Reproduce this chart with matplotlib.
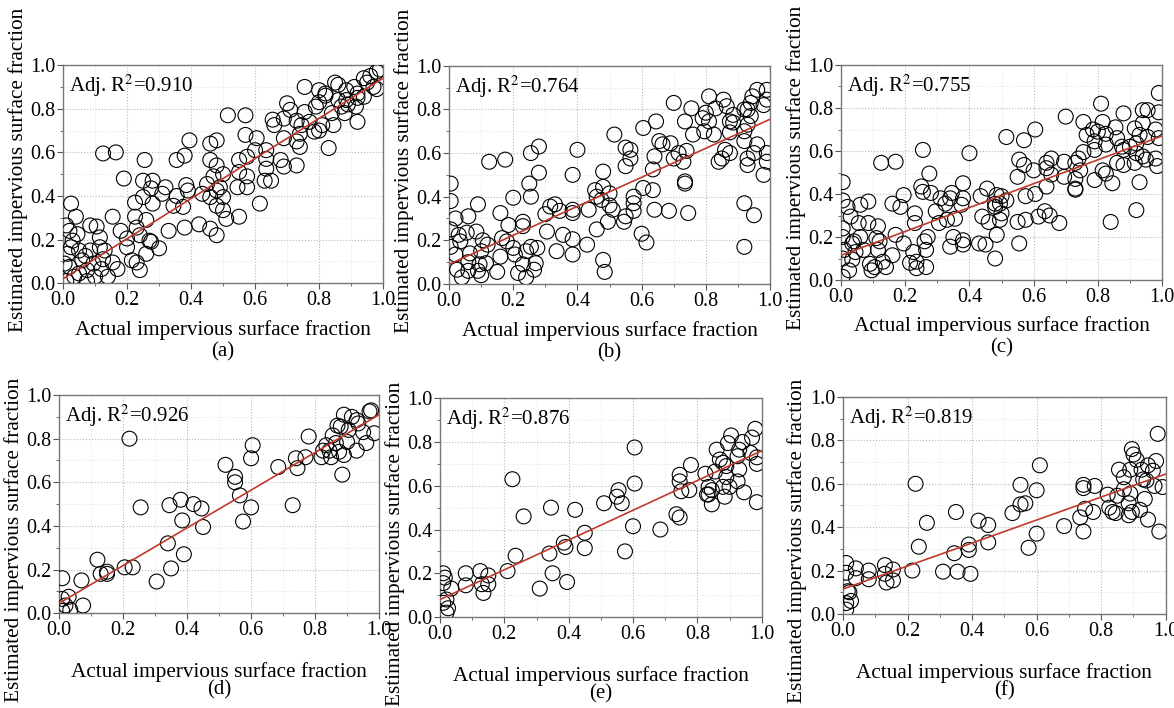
import matplotlib
matplotlib.use("Agg")
import matplotlib.pyplot as plt
import numpy as np

plt.rcParams["font.family"] = ["Liberation Serif", "DejaVu Serif"]
plt.rcParams["mathtext.fontset"] = "stix"

# ---- data (x = actual, y = estimated) ----
xa = [0.98, 0.99, 0.96, 0.94, 0.95, 0.91, 0.97, 0.98, 0.85, 0.86, 0.885, 0.92, 0.94, 0.92, 0.86,
      0.82, 0.80, 0.82, 0.80, 0.79, 0.885, 0.87, 0.89, 0.915, 0.84, 0.88, 0.92, 0.845, 0.755, 0.755,
      0.70, 0.71, 0.69, 0.73, 0.745, 0.77, 0.785, 0.80, 0.81, 0.83, 0.655, 0.66, 0.74, 0.73, 0.74,
      0.69, 0.73, 0.69, 0.68, 0.635, 0.635, 0.635, 0.63, 0.65, 0.60, 0.605, 0.615, 0.57, 0.515, 0.57,
      0.575, 0.55, 0.55, 0.575, 0.575, 0.545, 0.55, 0.51, 0.50, 0.50, 0.49, 0.50, 0.48, 0.48, 0.46,
      0.46, 0.48, 0.48, 0.48, 0.46, 0.46, 0.435, 0.425, 0.45, 0.47, 0.395, 0.38, 0.355, 0.385, 0.39,
      0.375, 0.38, 0.355, 0.345, 0.33, 0.32, 0.31, 0.275, 0.28, 0.25, 0.255, 0.28, 0.25, 0.26, 0.27,
      0.30, 0.225, 0.225, 0.23, 0.24, 0.215, 0.23, 0.24, 0.26, 0.275, 0.19, 0.165, 0.125, 0.155, 0.18,
      0.20, 0.20, 0.17, 0.155, 0.14, 0.125, 0.115, 0.115, 0.105, 0.085, 0.085, 0.095, 0.10, 0.075, 0.06,
      0.05, 0.045, 0.04, 0.025, 0.02, 0.01, 0.03, 0.015, 0.02, 0.035, 0.01, 0.07, 0.05, 0.075, 0.12,
      0.005, 0.025, 0.13]
ya = [0.97, 0.98, 0.95, 0.94, 0.92, 0.90, 0.90, 0.89, 0.92, 0.91, 0.885, 0.87, 0.855, 0.85, 0.84,
      0.87, 0.885, 0.86, 0.83, 0.81, 0.84, 0.81, 0.82, 0.81, 0.78, 0.78, 0.74, 0.725, 0.90, 0.785,
      0.825, 0.795, 0.755, 0.745, 0.725, 0.74, 0.695, 0.70, 0.725, 0.62, 0.75, 0.725, 0.685, 0.65, 0.625,
      0.665, 0.54, 0.535, 0.565, 0.61, 0.57, 0.525, 0.47, 0.47, 0.61, 0.665, 0.365, 0.77, 0.77, 0.68,
      0.58, 0.565, 0.51, 0.49, 0.44, 0.44, 0.305, 0.295, 0.335, 0.395, 0.44, 0.50, 0.54, 0.655, 0.64,
      0.565, 0.425, 0.355, 0.22, 0.25, 0.395, 0.41, 0.27, 0.455, 0.49, 0.655, 0.585, 0.565, 0.45, 0.425,
      0.35, 0.255, 0.40, 0.355, 0.24, 0.44, 0.41, 0.435, 0.47, 0.47, 0.565, 0.365, 0.395, 0.29, 0.195,
      0.16, 0.37, 0.305, 0.255, 0.22, 0.105, 0.095, 0.06, 0.135, 0.19, 0.48, 0.60, 0.595, 0.305, 0.24,
      0.205, 0.165, 0.065, 0.095, 0.03, 0.11, 0.165, 0.21, 0.26, 0.265, 0.15, 0.09, 0.03, 0.06, 0.105,
      0.15, 0.225, 0.305, 0.365, 0.24, 0.265, 0.195, 0.135, 0.075, 0.03, 0.01, 0.125, 0.045, 0.01, 0.065,
      0.09, 0.165, 0.15]

xb = [0.99, 0.99, 0.96, 0.945, 0.94, 0.93, 0.92, 0.98, 0.94, 0.93, 0.92, 0.92, 0.96, 0.95, 0.99,
      0.99, 0.93, 0.93, 0.98, 0.92, 0.95, 0.92, 0.81, 0.855, 0.83, 0.865, 0.885, 0.875, 0.885, 0.80,
      0.79, 0.81, 0.825, 0.795, 0.875, 0.84, 0.85, 0.875, 0.86, 0.755, 0.76, 0.735, 0.70, 0.645, 0.655,
      0.665, 0.69, 0.715, 0.74, 0.70, 0.64, 0.635, 0.635, 0.64, 0.685, 0.735, 0.735, 0.745, 0.73, 0.605,
      0.515, 0.55, 0.565, 0.565, 0.55, 0.605, 0.575, 0.575, 0.575, 0.55, 0.545, 0.60, 0.615, 0.48, 0.48,
      0.455, 0.475, 0.46, 0.50, 0.50, 0.51, 0.495, 0.46, 0.435, 0.48, 0.485, 0.43, 0.40, 0.385, 0.385,
      0.385, 0.385, 0.385, 0.355, 0.345, 0.33, 0.315, 0.30, 0.305, 0.335, 0.28, 0.28, 0.255, 0.25, 0.255,
      0.275, 0.27, 0.265, 0.255, 0.23, 0.23, 0.24, 0.23, 0.24, 0.215, 0.125, 0.175, 0.20, 0.185, 0.16,
      0.165, 0.18, 0.20, 0.205, 0.16, 0.15, 0.12, 0.115, 0.10, 0.09, 0.085, 0.105, 0.10, 0.095, 0.09,
      0.06, 0.055, 0.065, 0.06, 0.06, 0.03, 0.035, 0.02, 0.005, 0.005, 0.005, 0.02, 0.025, 0.04, 0.005]
yb = [0.89, 0.845, 0.89, 0.86, 0.83, 0.80, 0.80, 0.82, 0.77, 0.73, 0.70, 0.655, 0.64, 0.60, 0.60,
      0.56, 0.575, 0.545, 0.50, 0.37, 0.315, 0.17, 0.86, 0.845, 0.805, 0.815, 0.775, 0.745, 0.74, 0.785,
      0.76, 0.745, 0.685, 0.70, 0.695, 0.56, 0.575, 0.60, 0.615, 0.805, 0.685, 0.745, 0.83, 0.745, 0.655,
      0.64, 0.645, 0.60, 0.61, 0.575, 0.585, 0.525, 0.43, 0.34, 0.335, 0.47, 0.46, 0.325, 0.56, 0.715,
      0.685, 0.625, 0.615, 0.575, 0.54, 0.44, 0.40, 0.37, 0.335, 0.31, 0.285, 0.23, 0.19, 0.515, 0.445,
      0.43, 0.385, 0.40, 0.415, 0.36, 0.34, 0.285, 0.25, 0.34, 0.11, 0.055, 0.18, 0.615, 0.50, 0.34,
      0.325, 0.205, 0.135, 0.225, 0.335, 0.365, 0.355, 0.32, 0.24, 0.15, 0.63, 0.51, 0.60, 0.46, 0.40,
      0.165, 0.095, 0.065, 0.17, 0.285, 0.265, 0.15, 0.09, 0.03, 0.05, 0.56, 0.57, 0.395, 0.27, 0.325,
      0.21, 0.195, 0.165, 0.135, 0.125, 0.055, 0.18, 0.095, 0.04, 0.365, 0.24, 0.20, 0.15, 0.09, 0.06,
      0.31, 0.235, 0.14, 0.10, 0.06, 0.225, 0.195, 0.30, 0.46, 0.38, 0.25, 0.135, 0.065, 0.03, 0.17]

xc = [0.99, 0.99, 0.955, 0.94, 0.94, 0.915, 0.98, 0.99, 0.955, 0.93, 0.92, 0.90, 0.985, 0.98, 0.94,
      0.95, 0.915, 0.92, 0.93, 0.92, 0.88, 0.855, 0.86, 0.875, 0.88, 0.88, 0.86, 0.81, 0.815, 0.785,
      0.80, 0.825, 0.79, 0.79, 0.825, 0.815, 0.825, 0.845, 0.84, 0.79, 0.765, 0.755, 0.755, 0.745, 0.74,
      0.73, 0.73, 0.73, 0.73, 0.70, 0.695, 0.695, 0.68, 0.655, 0.64, 0.64, 0.64, 0.655, 0.635, 0.65,
      0.615, 0.605, 0.60, 0.605, 0.515, 0.57, 0.57, 0.555, 0.55, 0.575, 0.575, 0.55, 0.555, 0.455, 0.485,
      0.50, 0.495, 0.48, 0.48, 0.50, 0.495, 0.46, 0.44, 0.435, 0.43, 0.45, 0.48, 0.485, 0.515, 0.40,
      0.38, 0.38, 0.375, 0.38, 0.38, 0.345, 0.34, 0.325, 0.33, 0.355, 0.35, 0.34, 0.295, 0.31, 0.305,
      0.28, 0.275, 0.255, 0.25, 0.255, 0.27, 0.265, 0.265, 0.26, 0.23, 0.23, 0.225, 0.235, 0.215, 0.235,
      0.195, 0.185, 0.195, 0.17, 0.16, 0.16, 0.17, 0.125, 0.14, 0.13, 0.115, 0.12, 0.115, 0.11, 0.105,
      0.095, 0.09, 0.085, 0.085, 0.07, 0.06, 0.055, 0.06, 0.04, 0.045, 0.035, 0.025, 0.03, 0.02, 0.005,
      0.005, 0.005, 0.005, 0.01, 0.005, 0.005, 0.035]
yc = [0.87, 0.78, 0.79, 0.79, 0.73, 0.705, 0.70, 0.66, 0.665, 0.675, 0.635, 0.62, 0.53, 0.565, 0.575,
      0.56, 0.545, 0.59, 0.455, 0.325, 0.775, 0.71, 0.66, 0.62, 0.605, 0.535, 0.545, 0.82, 0.735, 0.70,
      0.69, 0.68, 0.645, 0.605, 0.63, 0.51, 0.495, 0.45, 0.27, 0.465, 0.675, 0.735, 0.595, 0.51, 0.565,
      0.545, 0.47, 0.425, 0.42, 0.76, 0.55, 0.48, 0.265, 0.565, 0.545, 0.52, 0.435, 0.49, 0.32, 0.30,
      0.295, 0.70, 0.51, 0.40, 0.665, 0.65, 0.535, 0.56, 0.48, 0.39, 0.28, 0.27, 0.17, 0.425, 0.395,
      0.39, 0.355, 0.355, 0.34, 0.31, 0.28, 0.27, 0.295, 0.39, 0.17, 0.165, 0.10, 0.21, 0.37, 0.59,
      0.45, 0.38, 0.35, 0.185, 0.165, 0.405, 0.38, 0.355, 0.28, 0.285, 0.20, 0.155, 0.32, 0.38, 0.265,
      0.405, 0.495, 0.605, 0.435, 0.41, 0.20, 0.14, 0.06, 0.18, 0.31, 0.265, 0.13, 0.085, 0.08, 0.055,
      0.395, 0.34, 0.17, 0.21, 0.355, 0.115, 0.55, 0.545, 0.06, 0.085, 0.14, 0.18, 0.25, 0.195, 0.06,
      0.045, 0.075, 0.265, 0.365, 0.14, 0.20, 0.265, 0.35, 0.18, 0.13, 0.095, 0.045, 0.295, 0.34, 0.37,
      0.455, 0.24, 0.20, 0.14, 0.10, 0.015, 0.17]

xd = [0.975, 0.97, 0.89, 0.915, 0.87, 0.88, 0.93, 0.935, 0.905, 0.95, 0.985, 0.855, 0.90, 0.96, 0.865,
      0.835, 0.825, 0.845, 0.875, 0.93, 0.85, 0.82, 0.89, 0.885, 0.78, 0.77, 0.74, 0.745, 0.685, 0.73,
      0.605, 0.60, 0.60, 0.575, 0.565, 0.55, 0.55, 0.52, 0.445, 0.45, 0.42, 0.38, 0.385, 0.39, 0.345,
      0.34, 0.35, 0.305, 0.255, 0.22, 0.23, 0.205, 0.12, 0.13, 0.15, 0.15, 0.07, 0.075, 0.03, 0.01,
      0.01, 0.02, 0.035, 0.01]
yd = [0.93, 0.925, 0.91, 0.90, 0.86, 0.855, 0.885, 0.87, 0.84, 0.83, 0.825, 0.815, 0.785, 0.78, 0.78,
      0.77, 0.745, 0.745, 0.74, 0.745, 0.715, 0.715, 0.725, 0.635, 0.81, 0.715, 0.71, 0.665, 0.67, 0.495,
      0.77, 0.71, 0.485, 0.42, 0.54, 0.625, 0.60, 0.68, 0.48, 0.395, 0.50, 0.52, 0.425, 0.27, 0.495,
      0.32, 0.205, 0.145, 0.485, 0.80, 0.21, 0.21, 0.245, 0.18, 0.19, 0.18, 0.15, 0.035, 0.075, 0.16,
      0.065, 0.035, 0.015, 0.01]

xe = [0.98, 0.97, 0.905, 0.895, 0.94, 0.93, 0.965, 0.985, 0.985, 0.925, 0.86, 0.87, 0.88, 0.89, 0.93,
      0.925, 0.945, 0.985, 0.855, 0.825, 0.835, 0.845, 0.89, 0.88, 0.885, 0.90, 0.835, 0.845, 0.83, 0.78,
      0.775, 0.745, 0.745, 0.75, 0.735, 0.745, 0.685, 0.605, 0.605, 0.60, 0.575, 0.565, 0.555, 0.55, 0.51,
      0.45, 0.45, 0.42, 0.385, 0.39, 0.395, 0.35, 0.34, 0.345, 0.26, 0.235, 0.225, 0.21, 0.31, 0.125,
      0.13, 0.135, 0.15, 0.15, 0.08, 0.08, 0.035, 0.02, 0.015, 0.01, 0.01, 0.025, 0.02, 0.01]
ye = [0.86, 0.82, 0.83, 0.795, 0.80, 0.765, 0.75, 0.70, 0.73, 0.735, 0.765, 0.72, 0.705, 0.69, 0.675,
      0.62, 0.57, 0.525, 0.665, 0.655, 0.595, 0.58, 0.64, 0.595, 0.55, 0.595, 0.56, 0.515, 0.56, 0.695,
      0.58, 0.65, 0.62, 0.575, 0.47, 0.455, 0.40, 0.775, 0.61, 0.415, 0.30, 0.52, 0.58, 0.55, 0.52,
      0.385, 0.315, 0.49, 0.34, 0.32, 0.16, 0.20, 0.29, 0.50, 0.46, 0.28, 0.63, 0.21, 0.13, 0.21,
      0.15, 0.11, 0.15, 0.19, 0.20, 0.145, 0.13, 0.08, 0.18, 0.20, 0.155, 0.04, 0.02, 0.065]

xf = [0.975, 0.895, 0.90, 0.91, 0.97, 0.945, 0.925, 0.96, 0.89, 0.855, 0.87, 0.93, 0.94, 0.99, 0.965,
      0.87, 0.85, 0.82, 0.89, 0.935, 0.885, 0.825, 0.835, 0.845, 0.895, 0.92, 0.885, 0.945, 0.98, 0.78,
      0.745, 0.745, 0.75, 0.775, 0.735, 0.745, 0.685, 0.61, 0.60, 0.60, 0.565, 0.55, 0.55, 0.525, 0.575,
      0.45, 0.45, 0.42, 0.39, 0.39, 0.395, 0.345, 0.35, 0.355, 0.31, 0.26, 0.235, 0.225, 0.215, 0.155,
      0.155, 0.135, 0.13, 0.13, 0.08, 0.08, 0.04, 0.04, 0.01, 0.01, 0.015, 0.02, 0.025, 0.01, 0.01]
yf = [0.83, 0.76, 0.735, 0.71, 0.705, 0.685, 0.665, 0.66, 0.665, 0.665, 0.63, 0.62, 0.615, 0.585, 0.59,
      0.575, 0.545, 0.55, 0.555, 0.53, 0.51, 0.49, 0.47, 0.465, 0.47, 0.48, 0.455, 0.435, 0.38, 0.59,
      0.58, 0.595, 0.485, 0.47, 0.445, 0.38, 0.405, 0.685, 0.57, 0.37, 0.51, 0.505, 0.595, 0.465, 0.305,
      0.41, 0.33, 0.43, 0.32, 0.295, 0.185, 0.28, 0.47, 0.195, 0.195, 0.42, 0.31, 0.60, 0.20, 0.205,
      0.155, 0.145, 0.225, 0.185, 0.20, 0.16, 0.21, 0.165, 0.235, 0.19, 0.105, 0.10, 0.06, 0.05, 0.02]

panel_x = [xa, xb, xc, xd, xe, xf]
panel_y = [ya, yb, yc, yd, ye, yf]
adj_r2 = ["0.910", "0.764", "0.755", "0.926", "0.876", "0.819"]
fit_intercept = [0.02, 0.09, 0.115, 0.045, 0.08, 0.115]
fit_slope = [0.92, 0.665, 0.555, 0.865, 0.68, 0.53]
captions = ["(a)", "(b)", "(c)", "(d)", "(e)", "(f)"]
ticks = [0.0, 0.2, 0.4, 0.6, 0.8, 1.0]

# axes rectangles in figure fraction (left, bottom, width, height)
rects = [(0.0537, 0.600, 0.2726, 0.308), (0.3825, 0.599, 0.2734, 0.308),
         (0.7164, 0.6045, 0.2734, 0.3037), (0.0503, 0.134, 0.2726, 0.308),
         (0.3748, 0.1285, 0.274, 0.309), (0.718, 0.1328, 0.275, 0.3065)]

fig = plt.figure(figsize=(11.74, 7.08), dpi=100)
for i in range(6):
    ax = fig.add_axes(rects[i])
    ax.set_xlim(0, 1)
    ax.set_ylim(0, 1)
    ax.set_xticks(ticks)
    ax.set_yticks(ticks)
    ax.set_xticklabels([f"{t:.1f}" for t in ticks])
    ax.set_yticklabels([f"{t:.1f}" for t in ticks])
    ax.set_xticks(np.arange(0.1, 1.0, 0.2), minor=True)
    ax.set_yticks(np.arange(0.1, 1.0, 0.2), minor=True)
    ax.grid(which="major", color="#b8b8b8", ls=":", lw=0.8)
    ax.grid(which="minor", color="#e2e2e2", ls=":", lw=0.6)
    ax.tick_params(which="both", direction="out", labelsize=14.5, color="#555555", pad=1.5)
    ax.tick_params(which="major", length=4)
    ax.tick_params(which="minor", length=2.5)
    for sp in ax.spines.values():
        sp.set_color("#777777")
        sp.set_linewidth(1.0)
    ax.set_axisbelow(True)

    ax.scatter(panel_x[i], panel_y[i], s=115, facecolors="none", edgecolors="black",
               linewidths=0.8, zorder=3)
    xs = np.array([0.0, 1.0])
    ax.plot(xs, fit_intercept[i] + fit_slope[i] * xs, color="#c0392b", lw=1.2, zorder=4)

    ax.text(0.02, 0.905, "Adj. R$^2$=" + adj_r2[i], transform=ax.transAxes,
            fontsize=15, va="center", ha="left")

    top = i < 3
    ax.set_xlabel("Actual impervious surface fraction", fontsize=15.3)
    ax.xaxis.set_label_coords(0.5, -0.17 if top else -0.225)
    ax.set_ylabel("Estimated impervious surface fraction", fontsize=15.3)
    ax.yaxis.set_label_coords(-0.11, 0.52 if top else 0.335)
    ax.text(0.5, -0.317 if top else -0.353, captions[i], transform=ax.transAxes,
            fontsize=15, ha="center", va="center")

fig.savefig("out.png", dpi=100)
